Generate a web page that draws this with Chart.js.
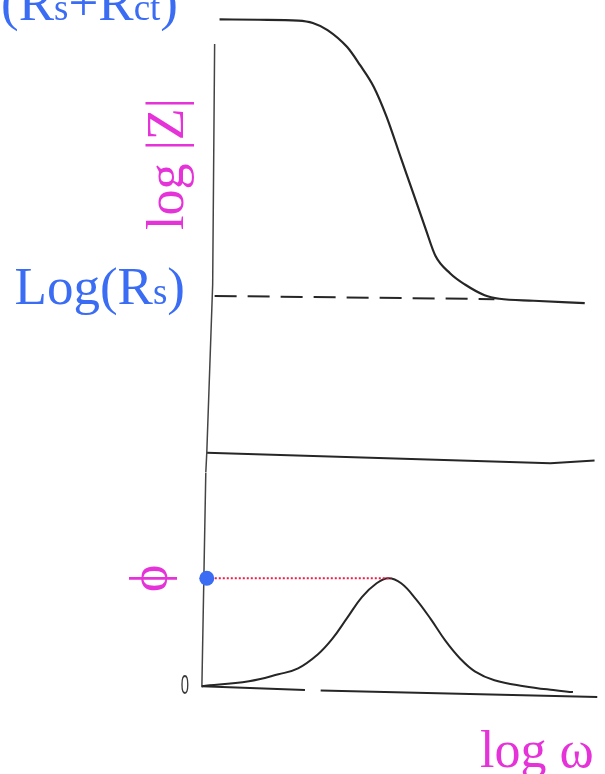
<!DOCTYPE html>
<html>
<head>
<meta charset="utf-8">
<script src="https://cdn.jsdelivr.net/npm/chart.js@4.4.1/dist/chart.umd.min.js"></script>
<style>
  html, body { margin: 0; padding: 0; background: #fff; }
  #wrap { position: relative; width: 605px; height: 774px; }
</style>
</head>
<body>
<div id="wrap"><canvas id="bode"></canvas></div>
<script>
// |Z| branch: log w against log|Z|
const magW = [0.375, 1.375, 2.375, 2.75, 3.125, 3.625, 3.95, 4.3, 4.625, 5.0, 5.3, 5.625, 5.875, 6.25, 6.625, 7.125, 7.5, 8.375, 9.675]
const magZ = [10.7, 10.69, 10.67, 10.61, 10.43, 10.0, 9.55, 9.0, 8.25, 7.18, 6.33, 5.4, 4.72, 4.28, 4.0, 3.73, 3.64, 3.59, 3.53]

// the two plateaus
const logRsRct = 10.7
const logRs = 3.7
const rsLineW = [0.25, 7.375]
const rsLineZ = [3.71, 3.63]

// phase branch: log w against phase angle
const phW = [-0.075, 1.125, 1.875, 2.375, 2.875, 3.25, 3.625, 4.0, 4.375, 4.675, 5.0, 5.375, 5.75, 6.125, 6.5, 6.875, 7.375, 8.125, 8.875, 9.375]
const phPhi = [0.4, 2.4, 5.2, 7.6, 13.2, 19.6, 28.0, 36.4, 42.0, 44.0, 42.0, 35.6, 27.6, 18.8, 11.6, 6.4, 2.8, 0.4, -1.2, -2.0]
const phiMax = 44
const phiMaxW = 4.75

// hand drawn axes (slightly skewed)
const zAxisW = [0.25, 0.2, 0.05, 0.025]
const zAxisZ = [10.075, 4.0, -0.25, -0.75]
const zBaseW = [0.05, 8.8, 9.925]
const zBaseZ = [-0.25, -0.52, -0.45]
const pAxisW = [0.025, -0.025, -0.075]
const pAxisPhi = [86.8, 43.6, 0]
const pBaseW = [-0.075, 2.55, 2.75, 2.95, 10]
const pBasePhi = [0.4, -1.15, null, -1.4, -4.0]

const BLUE = '#3a6cf4'
const MAGENTA = '#e633d9'
const INK = '#262626'

const pts = (xs, ys) => xs.map((x, i) => ({x: x, y: ys[i]}))

function line(data, axis, extra) {
  return Object.assign({
    data: data,
    yAxisID: axis,
    borderColor: INK,
    borderWidth: 2,
    pointRadius: 0,
    fill: false,
    tension: 0,
    spanGaps: false
  }, extra || {})
}

// draws a row of text pieces (big + small letters) ending at xRight
function textRun(ctx, parts, xRight, y) {
  let w = 0
  parts.forEach(p => { ctx.font = p[1]; w += ctx.measureText(p[0]).width })
  let x = xRight - w
  parts.forEach(p => {
    ctx.font = p[1]
    ctx.fillText(p[0], x, y)
    x += ctx.measureText(p[0]).width
  })
}

const labels = {
  id: 'bodeLabels',
  afterDraw(chart) {
    const ctx = chart.ctx
    const yZ = chart.scales.yZ
    const yP = chart.scales.yP
    const big = '53px "Liberation Serif"'
    const small = '37px "Liberation Serif"'
    ctx.save()
    ctx.textBaseline = 'alphabetic'
    ctx.textAlign = 'left'

    // plateau labels
    ctx.fillStyle = BLUE
    textRun(ctx, [['Log(R', big], ['s', small], ['+R', big], ['ct', small], [')', big]], 178, yZ.getPixelForValue(logRsRct) + 1)
    textRun(ctx, [['Log(R', big], ['s', small], [')', big]], 185, yZ.getPixelForValue(logRs) + 8)

    // axis titles
    ctx.fillStyle = MAGENTA
    ctx.font = '52px "Liberation Serif"'
    ctx.save()
    ctx.translate(183, 230)
    ctx.rotate(-Math.PI / 2)
    ctx.fillText('log |Z|', 0, 0)
    ctx.restore()

    ctx.save()
    ctx.translate(166, yP.getPixelForValue(phiMax))
    ctx.rotate(-Math.PI / 2)
    ctx.textAlign = 'center'
    ctx.fillText('ϕ', 0, 0)
    ctx.restore()

    ctx.fillText('log ω', 480, 767)

    // zero of the phase axis
    ctx.fillStyle = '#3a3a3a'
    ctx.font = '27px "Liberation Sans"'
    ctx.save()
    ctx.translate(185, yP.getPixelForValue(0) + 7)
    ctx.scale(0.55, 1)
    ctx.textAlign = 'center'
    ctx.fillText('0', 0, 0)
    ctx.restore()

    ctx.restore()
  }
}

new Chart(document.getElementById('bode'), {
  type: 'line',
  data: {
    datasets: [
      // marker at the phase maximum
      line([{x: 0.05, y: phiMax}], 'yP', {
        showLine: false, pointRadius: 7.5, pointHoverRadius: 7.5,
        pointBackgroundColor: BLUE, pointBorderWidth: 0
      }),
      line(pts([0.05, phiMaxW], [phiMax, phiMax]), 'yP', {
        borderColor: '#f0194a', borderWidth: 2, borderDash: [2, 2]
      }),
      line(pts(magW, magZ), 'yZ', {cubicInterpolationMode: 'monotone', borderWidth: 2.2}),
      line(pts(rsLineW, rsLineZ), 'yZ', {borderDash: [22, 11]}),
      line(pts(zAxisW, zAxisZ), 'yZ', {borderWidth: 1.5, borderColor: '#444'}),
      line(pts(zBaseW, zBaseZ), 'yZ'),
      line(pts(phW, phPhi), 'yP', {tension: 0.4}),
      line(pts(pAxisW, pAxisPhi), 'yP', {borderWidth: 1.5, borderColor: '#444'}),
      line(pts(pBaseW, pBasePhi), 'yP')
    ]
  },
  options: {
    responsive: true,
    maintainAspectRatio: false,
    animation: false,
    layout: { padding: { left: 195, right: 0, top: 0, bottom: 74 } },
    plugins: {
      legend: { display: false },
      tooltip: { enabled: false }
    },
    scales: {
      x: { type: 'linear', min: -0.25, max: 10, display: false },
      // first scale in the stack ends up at the bottom
      yP: { type: 'linear', min: -5.2, max: 86.8, display: false, position: 'left', stack: 'bode', stackWeight: 230 },
      yZ: { type: 'linear', min: -0.75, max: 11, display: false, position: 'left', stack: 'bode', stackWeight: 470 }
    }
  },
  plugins: [labels]
})
</script>
</body>
</html>
